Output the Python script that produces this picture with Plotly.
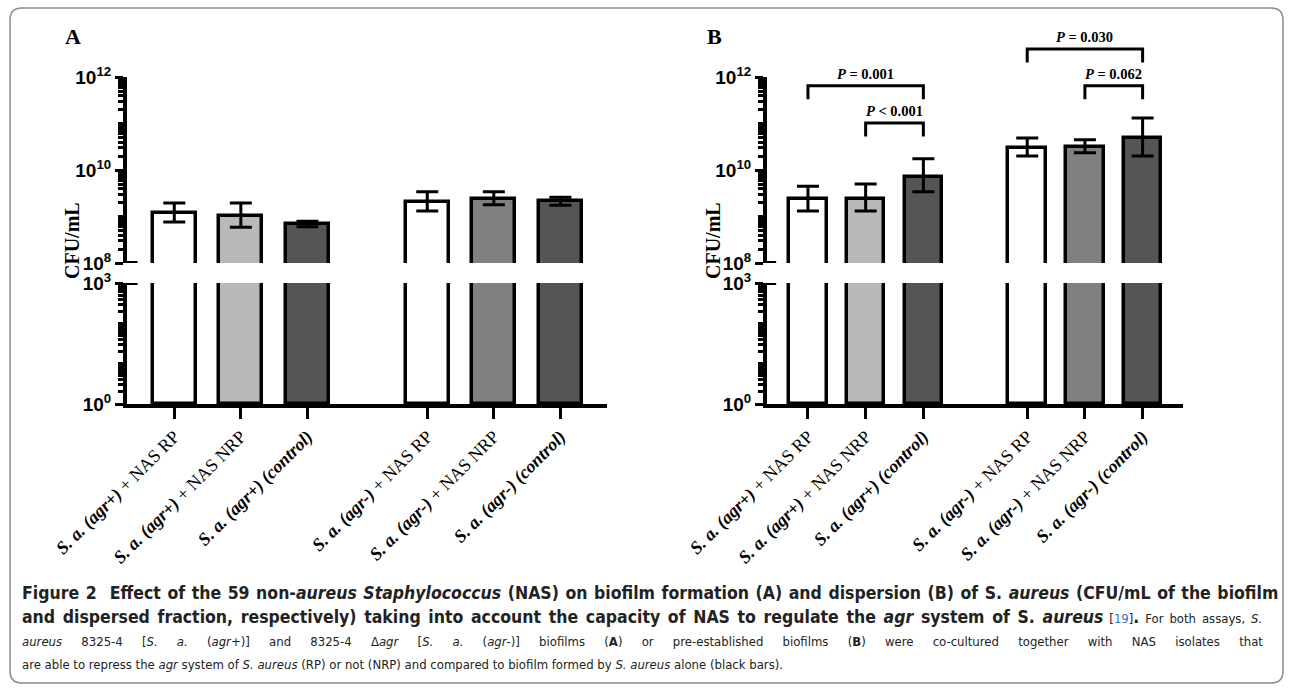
import numpy as np
import plotly.graph_objects as go

# ---------------- data ----------------
labels = [
    "<b><i>S. a. (agr+)</i></b> + NAS RP",
    "<b><i>S. a. (agr+)</i></b> + NAS NRP",
    "<b><i>S. a. (agr+) (control)</i></b>",
    "<b><i>S. a. (agr-)</i></b> + NAS RP",
    "<b><i>S. a. (agr-)</i></b> + NAS NRP",
    "<b><i>S. a. (agr-) (control)</i></b>",
]
bar_colors = ["#ffffff", "#b9b9b9", "#555555", "#ffffff", "#808080", "#555555"]

# Panel A: biofilm formation (CFU/mL)
A_mean = [1.19e9, 1.02e9, 6.9e8, 2.04e9, 2.40e9, 2.14e9]
A_upper = [1.95e9, 1.95e9, 7.9e8, 3.4e9, 3.4e9, 2.6e9]
A_lower = [7.6e8, 5.9e8, 6.0e8, 1.32e9, 1.78e9, 1.74e9]

# Panel B: dispersion (CFU/mL)
B_mean = [2.38e9, 2.38e9, 7.1e9, 2.95e10, 3.09e10, 4.9e10]
B_upper = [4.5e9, 5.0e9, 1.74e10, 4.9e10, 4.47e10, 1.32e11]
B_lower = [1.31e9, 1.31e9, 3.4e9, 2.0e10, 2.34e10, 2.0e10]

# significance comparisons in panel B: (bar i, bar j, text)
B_comparisons = [
    (0, 2, "<i>P</i> = 0.001"),
    (1, 2, "<i>P</i> < 0.001"),
    (3, 5, "<i>P</i> = 0.030"),
    (4, 5, "<i>P</i> = 0.062"),
]

# ---------------- layout constants ----------------
W, H = 1293, 691
def px(x):
    return x / W
def py(y):
    return 1 - y / H

group_gap = 1.8
xpos = np.array([i + (group_gap - 1) * (i >= 3) for i in range(6)], dtype=float)
bar_w = 0.65
xrange_ = [-0.71, 6.5]

up_dom = [py(263), py(77)]      # 1e8 .. 1e12
lo_dom = [py(404), py(283)]      # 1e0 .. 1e3
up_range = [8, 12]
lo_range = [0, 3]
px_per_dec = (up_dom[1] - up_dom[0]) * H / (up_range[1] - up_range[0])
ann_dom = [up_dom[0], py(18)]
ann_range = [8, 8 + (ann_dom[1] - ann_dom[0]) * H / px_per_dec]

# bracket levels (log10 of the horizontal bar) for each comparison
bracket_level = [11.81, 11.01, 12.60, 11.81]
leg_len = 0.29

serif = "Liberation Serif"
sans = "Liberation Sans"

fig = go.Figure()

panels = [
    dict(mean=A_mean, up=A_upper, lo=A_lower, x="x", ylo="y", yup="y2"),
    dict(mean=B_mean, up=B_upper, lo=B_lower, x="x2", ylo="y3", yup="y4"),
]

for p in panels:
    mean = np.array(p["mean"])
    up = np.array(p["up"])
    lo = np.array(p["lo"])
    lo_base = 10 ** lo_range[0]
    lo_top = np.minimum(mean, 10 ** (lo_range[1] + 0.6))
    fig.add_trace(go.Bar(
        x=xpos, y=lo_top - lo_base, base=lo_base, width=bar_w,
        marker=dict(color=bar_colors, line=dict(color="black", width=3.5)),
        xaxis=p["x"], yaxis=p["ylo"], showlegend=False, hoverinfo="skip"))
    up_base = 10 ** (up_range[0] - 0.5)
    fig.add_trace(go.Bar(
        x=xpos, y=mean - up_base, base=up_base, width=bar_w,
        marker=dict(color=bar_colors, line=dict(color="black", width=3.5)),
        xaxis=p["x"], yaxis=p["yup"], showlegend=False, hoverinfo="skip"))
    fig.add_trace(go.Scatter(
        x=xpos, y=mean, mode="markers", marker=dict(size=0.1, color="rgba(0,0,0,0)"),
        error_y=dict(type="data", symmetric=False, array=up - mean, arrayminus=mean - lo,
                     color="black", thickness=3, width=11),
        xaxis=p["x"], yaxis=p["yup"], showlegend=False, hoverinfo="skip"))

# significance brackets in panel B
for (i, j, txt), lev in zip(B_comparisons, bracket_level):
    xs = [xpos[i], xpos[i], xpos[j], xpos[j]]
    ys = [10 ** (lev - leg_len), 10 ** lev, 10 ** lev, 10 ** (lev - leg_len)]
    fig.add_trace(go.Scatter(x=xs, y=ys, mode="lines", line=dict(color="black", width=3),
                             xaxis="x2", yaxis="y5", showlegend=False, hoverinfo="skip"))
    fig.add_annotation(x=(xpos[i] + xpos[j]) / 2, y=lev + 0.04, xref="x2", yref="y5",
                       text=txt, showarrow=False, xanchor="center", yanchor="bottom",
                       font=dict(family=serif, size=14.5, color="black", weight="bold"))

def minor_vals(lo_e, hi_e):
    return [k * 10.0 ** e for e in range(lo_e, hi_e) for k in range(2, 10)] + \
           [10.0 ** e for e in range(lo_e, hi_e + 1)]

tickfont = dict(family=sans, size=19, color="black", weight="bold")

def yaxis_cfg(dom, rng, tv, anchor):
    return dict(domain=dom, type="log", range=rng, anchor=anchor, automargin=False,
                showline=True, linewidth=4, linecolor="black", showgrid=False, zeroline=False,
                ticks="outside", ticklen=8, tickwidth=3, tickcolor="black",
                tickmode="array", tickvals=[10.0 ** e for e in tv],
                ticktext=["10<sup>%d</sup>" % e for e in tv], tickfont=tickfont,
                minor=dict(ticks="outside", ticklen=5, tickwidth=2.5, tickcolor="black",
                           tickmode="array", tickvals=minor_vals(rng[0], rng[1]), showgrid=False),
                fixedrange=True)

def xaxis_cfg(dom, anchor):
    return dict(domain=dom, range=xrange_, anchor=anchor, automargin=False, showline=True,
                linewidth=4, linecolor="black", showgrid=False, zeroline=False,
                ticks="outside", ticklen=11, tickwidth=3, tickcolor="black",
                tickmode="array", tickvals=xpos, ticktext=labels, tickangle=-45,
                tickfont=dict(family=serif, size=18, color="black"), fixedrange=True)

fig.update_layout(
    template="none",
    width=W, height=H,
    margin=dict(l=0, r=0, t=0, b=0, autoexpand=False),
    paper_bgcolor="white", plot_bgcolor="rgba(0,0,0,0)",
    bargap=0, showlegend=False,
    xaxis=xaxis_cfg([px(127), px(607)], "y"),
    xaxis2=xaxis_cfg([px(767), px(1183)], "y3"),
    yaxis=yaxis_cfg(lo_dom, lo_range, [0, 3], "x"),
    yaxis2=yaxis_cfg(up_dom, up_range, [8, 10, 12], "x"),
    yaxis3=yaxis_cfg(lo_dom, lo_range, [0, 3], "x2"),
    yaxis4=yaxis_cfg(up_dom, up_range, [8, 10, 12], "x2"),
    yaxis5=dict(domain=ann_dom, type="log", range=ann_range, anchor="x2", visible=False,
                automargin=False, fixedrange=True),
)

# axis-break marks
for yref_up, yref_lo, xd in [("y2", "y", "x domain"), ("y4", "y3", "x2 domain")]:
    fig.add_shape(type="line", xref=xd, yref=yref_up, x0=-0.008, x1=0.022,
                  y0=10 ** up_range[0], y1=10 ** up_range[0], line=dict(color="black", width=4))
    fig.add_shape(type="line", xref=xd, yref=yref_lo, x0=-0.003, x1=0.022,
                  y0=10 ** lo_range[1], y1=10 ** lo_range[1], line=dict(color="black", width=4))

# y-axis titles and panel letters
for xt, lt, letter in [(72, 63, "A"), (713, 705, "B")]:
    fig.add_annotation(x=px(xt), y=py(241), xref="paper", yref="paper", text="CFU/mL",
                       textangle=-90, showarrow=False, xanchor="center", yanchor="middle",
                       font=dict(family=serif, size=20, color="black", weight="bold"))
    fig.add_annotation(x=px(lt), y=py(36), xref="paper", yref="paper", text=letter,
                       xanchor="left", yanchor="middle", showarrow=False,
                       font=dict(family=serif, size=22, color="black", weight="bold"))

# caption
def B(t, size=17.5):
    return "<span style='font-size:%spx'><b>%s</b></span>" % (size, t)

cap_lines = [
    B("Figure 2  Effect of the 59 non-<i>aureus Staphylococcus</i> (NAS) on biofilm formation (A) and dispersion (B) of S. <i>aureus</i> (CFU/mL of the biofilm"),
    B("and dispersed fraction, respectively) taking into account the capacity of NAS to regulate the <i>agr</i> system of S. <i>aureus</i>")
    + " [<span style='color:#3a6fc4'>19</span>]" + B(".") + " For both assays, <i>S.</i>",
    "<i>aureus</i> 8325-4 [<i>S. a.</i> (<i>agr</i>+)] and 8325-4 Δ<i>agr</i> [<i>S. a.</i> (<i>agr</i>-)] biofilms (<b>A</b>) or pre-established biofilms (<b>B</b>) were co-cultured together with NAS isolates that",
    "are able to repress the <i>agr</i> system of <i>S. aureus</i> (RP) or not (NRP) and compared to biofilm formed by <i>S. aureus</i> alone (black bars).",
]
cap_wordspacing = [1.1, 2.2, 15.5, 0]
cap_y = [593, 617, 641, 664]
for t, yy, ws in zip(cap_lines, cap_y, cap_wordspacing):
    fig.add_annotation(x=px(20), y=py(yy), xref="paper", yref="paper",
                       text="<span style='word-spacing:%spx'>%s</span>" % (ws, t) if ws else t,
                       xanchor="left", yanchor="middle", showarrow=False, align="left",
                       font=dict(family="Liberation Sans Narrow, DejaVu Sans Condensed, Liberation Sans",
                                 size=13, color="#222222"))

# rounded frame
x0, y0, x1, y1, r = px(10), py(683), px(1283), py(8), 12
rx, ry = r / W, r / H
path = (f"M {x0+rx},{y1} L {x1-rx},{y1} Q {x1},{y1} {x1},{y1-ry} "
        f"L {x1},{y0+ry} Q {x1},{y0} {x1-rx},{y0} L {x0+rx},{y0} Q {x0},{y0} {x0},{y0+ry} "
        f"L {x0},{y1-ry} Q {x0},{y1} {x0+rx},{y1} Z")
fig.add_shape(type="path", path=path, xref="paper", yref="paper",
              line=dict(color="#8a8a8a", width=1.5), layer="below")

fig.write_html("out.html", config={"displayModeBar": False},
               post_script="document.body.style.margin='0';document.body.style.overflow='hidden';")
